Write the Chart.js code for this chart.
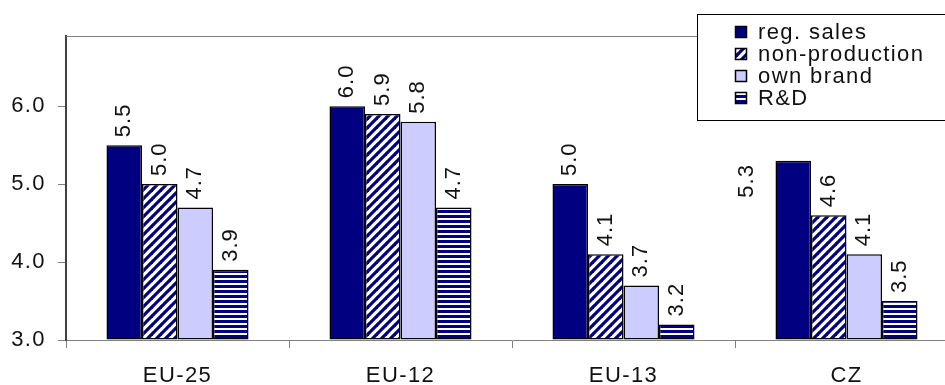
<!DOCTYPE html>
<html>
<head>
<meta charset="utf-8">
<script src="https://cdn.jsdelivr.net/npm/chart.js@4.4.1/dist/chart.umd.min.js"></script>
<style>
  html, body { margin: 0; padding: 0; background: #fff; overflow: hidden; }
  #wrap { width: 945px; height: 385px; overflow: hidden; position: relative; }
  canvas { display: block; }
</style>
</head>
<body>
<div id="wrap"><canvas id="c" width="990" height="385"></canvas></div>
<script>
// Categories and series values
const categories = ['EU-25', 'EU-12', 'EU-13', 'CZ'];
const seriesNames = ['reg. sales', 'non-production', 'own brand', 'R&D'];
const regSales      = [5.5, 6.0, 5.0, 5.3];
const nonProduction = [5.0, 5.9, 4.1, 4.6];
const ownBrand      = [4.7, 5.8, 3.7, 4.1];
const rAndD         = [3.9, 4.7, 3.2, 3.5];
const yTicks = [3, 4, 5, 6];
const yMin = 3, yMax = 6.9;

const NAVY = '#000080';
const LAVENDER = '#CCCCFF';
const FONT_FAMILY = '"Liberation Sans", Arial, sans-serif';
const SPACING = '1.4px';

const canvas = document.getElementById('c');
const mainCtx = canvas.getContext('2d');

// Fill patterns: diagonal "/" stripes and horizontal stripes
function diagonalPattern() {
  const s = 9;
  const t = document.createElement('canvas');
  t.width = t.height = s;
  const g = t.getContext('2d');
  g.fillStyle = '#fff';
  g.fillRect(0, 0, s, s);
  g.strokeStyle = NAVY;
  g.lineWidth = 3.2;
  for (const k of [-1, 0, 1]) {
    g.beginPath();
    g.moveTo(k * s - 1, s + 1);
    g.lineTo(k * s + s + 1, -1);
    g.stroke();
  }
  return mainCtx.createPattern(t, 'repeat');
}
function horizontalPattern() {
  const s = 5;
  const t = document.createElement('canvas');
  t.width = t.height = s;
  const g = t.getContext('2d');
  g.fillStyle = '#fff';
  g.fillRect(0, 0, s, s);
  g.fillStyle = NAVY;
  g.fillRect(0, 0, s, 3);
  return mainCtx.createPattern(t, 'repeat');
}
const diagFill = diagonalPattern();
const horizFill = horizontalPattern();

// Value labels sit above each bar; one label is moved aside to clear the legend
const labelShift = [{ dataset: 0, index: 3, dx: -1.29, dy: 45 }];

const spacingPlugin = {
  id: 'letterSpacing',
  beforeUpdate(chart) { chart.ctx.letterSpacing = SPACING; },
  beforeLayout(chart) { chart.ctx.letterSpacing = SPACING; },
  beforeDraw(chart) { chart.ctx.letterSpacing = SPACING; }
};

const frameTop = {
  id: 'frameTop',
  beforeDatasetsDraw(chart) {
    const { ctx, chartArea } = chart;
    ctx.save();
    ctx.strokeStyle = '#808080';
    ctx.lineWidth = 1;
    ctx.beginPath();
    ctx.moveTo(chartArea.left, chartArea.top + 0.5);
    ctx.lineTo(chartArea.right, chartArea.top + 0.5);
    ctx.stroke();
    ctx.restore();
  }
};

const barValues = {
  id: 'barValues',
  afterDatasetsDraw(chart) {
    const ctx = chart.ctx;
    ctx.save();
    ctx.font = '22px ' + FONT_FAMILY;
    ctx.letterSpacing = '1px';
    ctx.fillStyle = '#111';
    ctx.textAlign = 'left';
    ctx.textBaseline = 'middle';
    chart.data.datasets.forEach((ds, di) => {
      chart.getDatasetMeta(di).data.forEach((bar, i) => {
        let x = bar.x, y = bar.y - 8;
        const s = labelShift.find(o => o.dataset === di && o.index === i);
        if (s) { x += s.dx * bar.width; y += s.dy; }
        ctx.save();
        ctx.translate(x, y);
        ctx.rotate(-Math.PI / 2);
        ctx.fillText(ds.data[i].toFixed(1), 0, 0);
        ctx.restore();
      });
    });
    ctx.restore();
  }
};

const legendBox = {
  id: 'legendBox',
  afterDraw(chart) {
    const ctx = chart.ctx;
    const box = { x: 697.5, y: 14.5, w: 400, h: 106 };
    ctx.save();
    ctx.fillStyle = '#fff';
    ctx.fillRect(box.x, box.y, box.w, box.h);
    ctx.strokeStyle = '#000';
    ctx.lineWidth = 1;
    ctx.strokeRect(box.x, box.y, box.w, box.h);
    ctx.font = '22px ' + FONT_FAMILY;
    ctx.letterSpacing = '1.4px';
    ctx.textAlign = 'left';
    ctx.textBaseline = 'alphabetic';
    chart.data.datasets.forEach((ds, i) => {
      const base = 39 + 22 * i;
      ctx.fillStyle = ds.backgroundColor;
      ctx.fillRect(735.5, base - 12.5, 11, 11);
      ctx.strokeStyle = '#000';
      ctx.lineWidth = 1.5;
      ctx.strokeRect(735.5, base - 12.5, 11, 11);
      ctx.fillStyle = '#111';
      ctx.fillText(ds.label, 758, base);
    });
    ctx.restore();
  }
};

const barStyle = {
  borderColor: '#000',
  borderWidth: 1.5,
  borderSkipped: false,
  base: yMin,
  categoryPercentage: 0.637,
  barPercentage: 1
};

const tickFont = { family: FONT_FAMILY, size: 22 };

new Chart(canvas, {
  type: 'bar',
  data: {
    labels: categories,
    datasets: [
      { label: seriesNames[0], data: regSales, backgroundColor: NAVY, ...barStyle },
      { label: seriesNames[1], data: nonProduction, backgroundColor: diagFill, ...barStyle },
      { label: seriesNames[2], data: ownBrand, backgroundColor: LAVENDER, ...barStyle },
      { label: seriesNames[3], data: rAndD, backgroundColor: horizFill, ...barStyle }
    ]
  },
  options: {
    responsive: false,
    animation: false,
    devicePixelRatio: 1,
    layout: { padding: { top: 36, right: 32, left: 0, bottom: 0 } },
    plugins: { legend: { display: false }, tooltip: { enabled: false } },
    scales: {
      x: {
        grid: { offset: true, drawOnChartArea: false, drawTicks: true, tickLength: 8, color: '#808080' },
        border: { color: '#808080', width: 1 },
        ticks: { font: tickFont, color: '#111', padding: 15, maxRotation: 0 },
        afterFit(s) { s.height = 45; }
      },
      y: {
        min: yMin,
        max: yMax,
        afterBuildTicks(s) { s.ticks = yTicks.map(v => ({ value: v })); },
        ticks: { font: tickFont, color: '#111', padding: 12, callback: v => Number(v).toFixed(1) },
        grid: { drawOnChartArea: false, drawTicks: true, tickLength: 8, color: '#808080' },
        border: { color: '#404040', width: 2 },
        afterFit(s) { s.width = 66; }
      }
    }
  },
  plugins: [spacingPlugin, frameTop, barValues, legendBox]
});
</script>
</body>
</html>
